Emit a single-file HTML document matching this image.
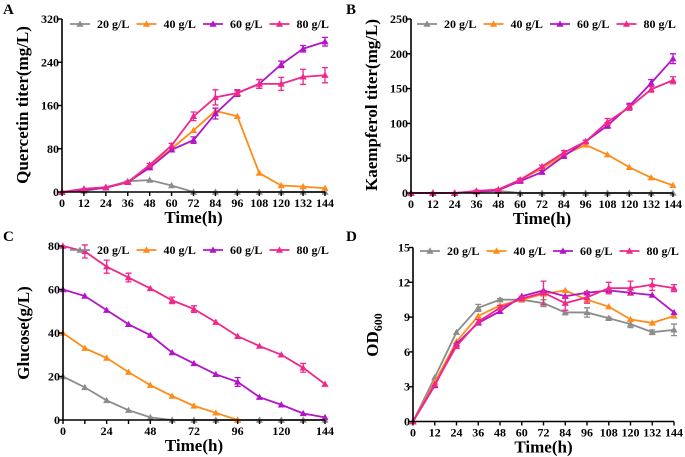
<!DOCTYPE html>
<html><head><meta charset="utf-8"><style>
html,body{margin:0;padding:0;background:#fff;}
svg{display:block;font-family:"Liberation Serif",serif;font-weight:bold;}
</style></head><body>
<svg id="chart" width="685" height="457" viewBox="0 0 685 457" xmlns="http://www.w3.org/2000/svg"></svg>
<script>
const hours = [0,12,24,36,48,60,72,84,96,108,120,132,144];
const seriesNames = ["20 g/L","40 g/L","60 g/L","80 g/L"];
const seriesColors = ["#8c8c8c","#ff8c1a","#b414c8","#f0288c"];

const querc20 = [0,2,8,20,22,12,0,0,0,0,0,0,0];
const querc40 = [0,4,8,18,48,80,114,150,140,35,12,10,7];
const querc60 = [0,4,8,18,45,78,96,145,183,200,236,265,278];
const querc80 = [0,6,9,18,50,86,140,175,183,200,200,213,216];
const quercErr80 = [0,0,0,2,3,4,8,14,4,8,12,14,14];
const quercErr60 = [0,0,0,2,3,3,6,10,6,8,6,6,8];
const quercTicks = [0,80,160,240,320];

const kaemp20 = [0,0,0,2,3,0,0,0,0,0,0,0,0];
const kaemp40 = [0,0,0,2,5,19,35,55,69,55,37,22,11];
const kaemp60 = [0,0,0,2,4,17,30,53,74,97,125,158,193];
const kaemp80 = [0,0,0,3,5,19,38,58,74,102,123,149,162];
const kaempErr60 = [0,0,0,1,1,2,2,3,2,4,4,5,7];
const kaempErr80 = [0,0,0,1,1,2,2,3,2,5,4,4,5];
const kaempTicks = [0,50,100,150,200,250];

const gluc20 = [20,15,9,4.5,1.2,0,0,0,0,0,0,0,0];
const gluc40 = [40,33,28.5,22,16,11,6.5,3.3,0,0,0,0,0];
const gluc60 = [60,57,50.5,44,39,31,26,21,17.5,10.5,7,3,1.2];
const gluc80 = [80,77.5,70.5,65.5,60.5,55,51,45,38.5,34,30,24,16.5];
const glucErr60 = [0,0,0,0,0,0,0,0,2,0,0,0,0];
const glucErr80 = [0,3,3,2,0,1.5,1.5,0,0,0,0,2,0];
const glucTicks = [0,20,40,60,80];
const glucXTicks = [0,24,48,72,96,120,144];

const od20 = [0,3.8,7.7,9.8,10.5,10.5,10.2,9.4,9.4,8.9,8.4,7.7,7.9];
const od40 = [0,3.4,6.9,9.1,10,10.5,11,11.3,10.5,9.9,8.8,8.5,9.1];
const od60 = [0,3.1,6.7,8.5,9.5,10.8,11.3,10.8,11.1,11.3,11.1,10.9,9.4];
const od80 = [0,3.2,6.5,8.6,9.8,10.6,11.1,10.2,10.7,11.5,11.5,11.8,11.5];
const odErr20 = [0,0,0,0.3,0.1,0.2,0.3,0.2,0.4,0.1,0.3,0.2,0.5];
const odErr80 = [0,0,0.2,0.2,0.2,0.2,1,0.6,0.5,0.5,0.6,0.5,0.3];
const odTicks = [0,3,6,9,12,15];

const svg = document.getElementById('chart');
const NS = "http://www.w3.org/2000/svg";
function el(tag, attrs, parent){
  const e = document.createElementNS(NS, tag);
  for (const k in attrs) e.setAttribute(k, attrs[k]);
  (parent||svg).appendChild(e);
  return e;
}
function tri(g, x, y, c){
  const s = 3.6;
  return el('polygon',{points:`${x},${y-s} ${x-s},${y+s*0.75} ${x+s},${y+s*0.75}`, fill:c}, g);
}

function panel(p){
  const g = el('g',{});
  
  
  const sx = v => p.x0 + (v - 0) / 144 * (p.x1 - p.x0);
  const sy = v => p.y0 - v / p.ymax * (p.y0 - p.y1);
  const L = el('text',{x:p.lx, y:p.ly, 'font-size':15}, g);
  L.textContent = p.letter;
  
  
  p.series.forEach((vals, si) => {
    const sg = el('g',{}, g);
    
    
    let d = '';
    let last = vals.length;
    if (p.cut && p.cut[si] != null) last = p.cut[si] + 1;
    for (let i = 0; i < last; i++) d += (i ? 'L' : 'M') + sx(hours[i]) + ' ' + sy(vals[i]);
    el('path',{d:d, fill:'none', stroke:seriesColors[si], 'stroke-width':1.8}, sg);
    const err = p.err && p.err[si];
    for (let i = 0; i < last; i++) {
      const v = vals[i];
      if (err && err[i] > 0) {
        const x = sx(hours[i]);
        const ya = sy(v + err[i]), yb = sy(v - err[i]);
        el('path',{d:`M${x} ${ya}V${yb}M${x-3} ${ya}H${x+3}M${x-3} ${yb}H${x+3}`, stroke:seriesColors[si], 'stroke-width':1.3, fill:'none'}, sg);
      }
      const m = tri(sg, sx(hours[i]), sy(v), seriesColors[si]);
      
      
    }
  });
  const ax = el('g',{}, g);
  
  
  el('path',{d:`M${p.x0} ${p.y1}V${p.y0}H${p.x1}`, stroke:'#000', 'stroke-width':1.6, fill:'none'}, ax);
  p.yticks.forEach(t => {
    const y = sy(t);
    el('line',{x1:p.x0-4, x2:p.x0, y1:y, y2:y, stroke:'#000', 'stroke-width':1.4}, ax);
    const tx = el('text',{x:p.x0-3, y:y+4, 'font-size':12, 'text-anchor':'end'}, ax);
    tx.textContent = t;
  });
  hours.forEach(h => {
    const x = sx(h);
    el('line',{x1:x, x2:x, y1:p.y0, y2:p.y0+4, stroke:'#000', 'stroke-width':1.4}, ax);
  });
  p.xticks.forEach(h => {
    const tx = el('text',{x:sx(h), y:p.y0+15, 'font-size':12, 'text-anchor':'middle'}, ax);
    tx.textContent = h;
  });
  const xt = el('text',{x:(p.x0+p.x1)/2, y:p.y0+31, 'font-size':17, 'text-anchor':'middle'}, g);
  xt.textContent = 'Time(h)';
  
  
  const yt = el('text',{x:0, y:0, 'font-size':17, 'text-anchor':'middle', transform:`translate(${p.ytx},${p.yty}) rotate(-90)`}, g);
  if (p.od) {
    yt.innerHTML = 'OD<tspan font-size="12" dy="4">600</tspan>';
  } else yt.textContent = p.ytitle;
  
  
  const lg = el('g',{}, g);
  
  
  seriesNames.forEach((n, i) => {
    const x = p.legx + i * p.legdx;
    const eg = el('g',{}, lg);
    
    
    el('line',{x1:x, x2:x+20, y1:p.legy, y2:p.legy, stroke:seriesColors[i], 'stroke-width':1.8}, eg);
    tri(eg, x+10, p.legy, seriesColors[i]);
    const t = el('text',{x:x+27, y:p.legy+4, 'font-size':12}, eg);
    t.textContent = n;
  });
}

panel({name:'panel-a-quercetin', letter:'A', lx:3, ly:14, x0:62, x1:325, y0:192, y1:19, ymax:320,
  series:[querc20,querc40,querc60,querc80], err:[null,null,quercErr60,quercErr80],
  yticks:quercTicks, xticks:hours, ytitle:'Quercetin titer(mg/L)', ytx:28, yty:105,
  legx:70, legdx:66.5, legy:24});
panel({name:'panel-b-kaempferol', letter:'B', lx:346, ly:14, x0:411, x1:673, y0:193, y1:19, ymax:250,
  series:[kaemp20,kaemp40,kaemp60,kaemp80], err:[null,null,kaempErr60,kaempErr80],
  yticks:kaempTicks, xticks:hours, ytitle:'Kaempferol titer(mg/L)', ytx:377, yty:105,
  legx:417, legdx:66.5, legy:24});
panel({name:'panel-c-glucose', letter:'C', lx:3, ly:241, x0:63, x1:325, y0:420, y1:246, ymax:80,
  series:[gluc40,gluc60,gluc80,gluc20].length ? [gluc20,gluc40,gluc60,gluc80] : [], err:[null,null,glucErr60,glucErr80], cut:[null,8,null,null],
  yticks:glucTicks, xticks:glucXTicks, ytitle:'Glucose(g/L)', ytx:29, yty:333,
  legx:70, legdx:66.5, legy:250});
panel({name:'panel-d-od600', letter:'D', lx:346, ly:241, x0:413, x1:674, y0:421.5, y1:247.5, ymax:15,
  series:[od20,od40,od60,od80], err:[odErr20,null,null,odErr80],
  yticks:odTicks, xticks:hours, od:true, ytx:378, yty:335,
  legx:420, legdx:66.5, legy:251});
</script>
</body></html>
